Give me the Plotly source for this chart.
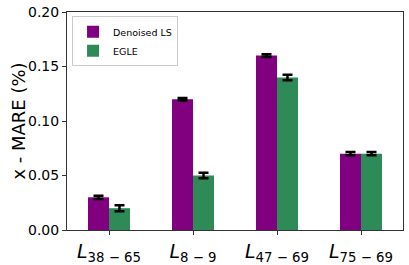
import plotly.graph_objects as go

categories = ["<i>L</i><sub>38 − 65</sub>", "<i>L</i><sub>8 − 9</sub>",
              "<i>L</i><sub>47 − 69</sub>", "<i>L</i><sub>75 − 69</sub>"]
denoised_ls = [0.03, 0.12, 0.16, 0.07]
denoised_ls_err = [0.0015, 0.0012, 0.0012, 0.0015]
egle = [0.02, 0.05, 0.14, 0.07]
egle_err = [0.0028, 0.0025, 0.0025, 0.0015]
yticks = [0.0, 0.05, 0.10, 0.15, 0.20]

x = list(range(len(categories)))

fig = go.Figure()
fig.add_trace(go.Bar(x=x, y=denoised_ls, name="Denoised LS", marker_color="#800080",
                     marker_line_width=0,
                     error_y=dict(type="data", array=denoised_ls_err, color="black",
                                  thickness=2.5, width=5)))
fig.add_trace(go.Bar(x=x, y=egle, name="EGLE", marker_color="#2E8B57",
                     marker_line_width=0,
                     error_y=dict(type="data", array=egle_err, color="black",
                                  thickness=2.5, width=5)))

fig.update_layout(
    width=409, height=265,
    margin=dict(l=67, r=6, t=12, b=35, autoexpand=False),
    paper_bgcolor="white", plot_bgcolor="white",
    barmode="group", bargap=0.5, bargroupgap=0,
    font=dict(family="DejaVu Sans", color="black"),
    legend=dict(x=0.015, y=0.98, xanchor="left", yanchor="top",
                bgcolor="white", bordercolor="#cccccc", borderwidth=1,
                font=dict(size=9.5), traceorder="normal", tracegroupgap=0,
                itemwidth=30),
    xaxis=dict(range=[-0.5, 3.5], tickvals=x, ticktext=categories,
               showline=True, mirror=True, linecolor="#333333", linewidth=1,
               ticks="outside", ticklen=4, tickcolor="#333333",
               tickfont=dict(size=19), showgrid=False, zeroline=False,
               automargin=False),
    yaxis=dict(range=[0, 0.2], tickvals=yticks, tickformat=".2f",
               showline=True, mirror=True, linecolor="#333333", linewidth=1,
               ticks="outside", ticklen=4, tickcolor="#333333",
               tickfont=dict(size=14), showgrid=False, zeroline=False,
               automargin=False),
    annotations=[dict(text="x - MARE (%)", xref="paper", yref="paper",
                      x=-0.147, y=0.5, xanchor="center", yanchor="middle",
                      textangle=-90, showarrow=False, font=dict(size=18))],
)

fig.write_html("out.html", config={"displayModeBar": False},
               post_script="document.body.style.margin='0';document.body.style.padding='0';")
